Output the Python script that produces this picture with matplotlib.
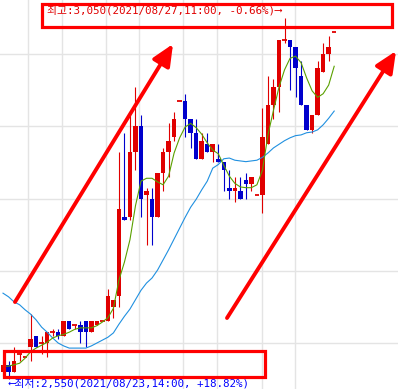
import numpy as np
import matplotlib
matplotlib.use("Agg")
import matplotlib.pyplot as plt
from matplotlib.patches import Rectangle

# hourly candles, left to right
opens = [2560, 2570, 2560, 2585, 2580, 2595, 2610, 2600, 2600, 2615, 2615, 2610, 2630, 2625, 2625, 2630,
         2615, 2625, 2630, 2630, 2650, 2665, 2775, 2775, 2865, 2900, 2805, 2800, 2775, 2835, 2865, 2885,
         2935, 2935, 2910, 2890, 2855, 2875, 2865, 2855, 2850, 2815, 2810, 2810, 2825, 2820, 2805, 2805,
         2875, 2930, 2955, 3020, 3020, 3010, 2970, 2930, 2895, 2915, 2975, 3000, 3030]
closes = [2570, 2560, 2575, 2585, 2580, 2605, 2595, 2600, 2615, 2615, 2610, 2630, 2620, 2625, 2615, 2615,
          2630, 2630, 2630, 2665, 2660, 2785, 2770, 2865, 2900, 2800, 2810, 2775, 2835, 2865, 2880, 2910,
          2935, 2910, 2890, 2855, 2880, 2865, 2875, 2850, 2840, 2810, 2815, 2800, 2820, 2830, 2805, 2885,
          2930, 2955, 3020, 3020, 3010, 2980, 2930, 2895, 2915, 2980, 3000, 3010, 3030]
highs = [2575, 2575, 2595, 2585, 2580, 2640, 2610, 2610, 2615, 2620, 2620, 2630, 2630, 2625, 2630, 2630,
         2630, 2630, 2630, 2675, 2660, 2865, 2890, 2915, 2955, 2915, 2815, 2815, 2835, 2870, 2905, 2920,
         2935, 2945, 2910, 2910, 2890, 2890, 2875, 2875, 2850, 2840, 2830, 2830, 2835, 2830, 2805, 2925,
         2970, 2965, 3020, 3050, 3020, 3010, 2990, 2930, 2915, 2990, 3015, 3025, 3030]
lows = [2555, 2550, 2560, 2575, 2580, 2575, 2595, 2585, 2580, 2610, 2605, 2610, 2620, 2620, 2600, 2595,
        2615, 2625, 2630, 2630, 2635, 2650, 2770, 2770, 2840, 2775, 2735, 2735, 2775, 2810, 2830, 2880,
        2935, 2885, 2870, 2855, 2855, 2865, 2850, 2850, 2810, 2800, 2795, 2800, 2800, 2810, 2805, 2780,
        2875, 2910, 2920, 3015, 2950, 2940, 2930, 2895, 2890, 2915, 2975, 2990, 3030]

# moving averages
ma_short = [2568, 2568, 2570, 2572, 2579, 2588, 2593, 2597, 2601, 2607, 2610, 2612, 2615, 2619, 2621, 2621,
            2621, 2624, 2629, 2635, 2648, 2687, 2712, 2743, 2790, 2824, 2828, 2828, 2823, 2819, 2831, 2863,
            2884, 2899, 2904, 2898, 2889, 2877, 2867, 2862, 2846, 2831, 2821, 2816, 2815, 2815, 2819, 2839,
            2888, 2922, 2954, 2978, 2994, 2997, 2988, 2967, 2949, 2940, 2945, 2957, 2983]
ma_long = [2669, 2664, 2657, 2653, 2646, 2640, 2632, 2622, 2615, 2607, 2600, 2596, 2593, 2593, 2593, 2593,
           2596, 2600, 2604, 2608, 2614, 2626, 2637, 2647, 2660, 2673, 2683, 2690, 2701, 2715, 2729, 2744,
           2759, 2774, 2788, 2799, 2812, 2824, 2842, 2847, 2855, 2856, 2853, 2852, 2851, 2852, 2853, 2857,
           2863, 2870, 2875, 2880, 2884, 2887, 2888, 2891, 2892, 2895, 2902, 2911, 2921]

grid_prices = [2600, 2700, 2800, 2900, 3000]
grid_x = [4.53, 10.69, 18.66, 24.64, 32.61, 38.77, 46.92, 52.9]

top_label = "최고:3,050(2021/08/27,11:00, -0.66%)⟶"
bottom_label = "⟵최저:2,550(2021/08/23,14:00, +18.82%)"

RED = "#e00000"
BLUE = "#0000cc"
W, H = 398, 389

fig = plt.figure(figsize=(W / 100, H / 100), dpi=100)
ax = fig.add_axes([0, 0, 1, 1])
ax.set_xlim(-0.543, 71.56)
ax.set_ylim(2536.4, 3074.7)
ax.axis("off")

for p in grid_prices:
    ax.axhline(p, color="#e4e4e4", lw=1, zorder=0)
for g in grid_x:
    ax.axvline(g, color="#e4e4e4", lw=1, zorder=0)

x = np.arange(len(opens))
o = np.array(opens)
c = np.array(closes)
colors = np.where(c >= o, RED, BLUE)
ax.vlines(x, lows, highs, colors=colors, lw=0.8, zorder=2)
bw = 0.82
ax.bar(x, np.abs(c - o), bottom=np.minimum(o, c), width=bw, color=colors, lw=0, zorder=3)
flat = c == o
ax.hlines(c[flat], x[flat] - bw / 2, x[flat] + bw / 2, colors=colors[flat], lw=1.3, zorder=3)

ax.plot(x, ma_long, color="#2090e0", lw=0.8, zorder=4)
ax.plot(x, ma_short, color="#5aa000", lw=0.8, zorder=4)


def px(xp, yp):
    return (xp / W, 1 - yp / H)


# highlight boxes
for (x0, y0, x1, y1) in [(41.5, 3.5, 391.5, 27), (3.5, 350.5, 264.5, 376.5)]:
    fig.patches.append(Rectangle(px(x0, y1), (x1 - x0) / W, (y1 - y0) / H, transform=fig.transFigure,
                                 fill=False, ec="#ff0000", lw=2.3, zorder=6))

# trend arrows
for (xs, ys, xe, ye) in [(15, 302, 173, 44), (227, 318, 396, 51)]:
    ax.annotate("", xy=px(xe, ye), xytext=px(xs, ys), xycoords="figure fraction",
                textcoords="figure fraction",
                arrowprops=dict(arrowstyle="-|>,head_length=1.0,head_width=0.45", mutation_scale=13,
                                color="#ff0000", lw=2.8, shrinkA=0, shrinkB=0), zorder=7)

fam = ["DejaVu Sans Mono", "Noto Sans CJK KR"]
fig.text(*px(47, 10), top_label, color=RED, fontsize=7.8, family=fam, ha="left", va="center")
fig.text(*px(9, 383.5), bottom_label, color="#0000ff", fontsize=7.8, family=fam, ha="left", va="center")

fig.savefig("out.png", dpi=100)
